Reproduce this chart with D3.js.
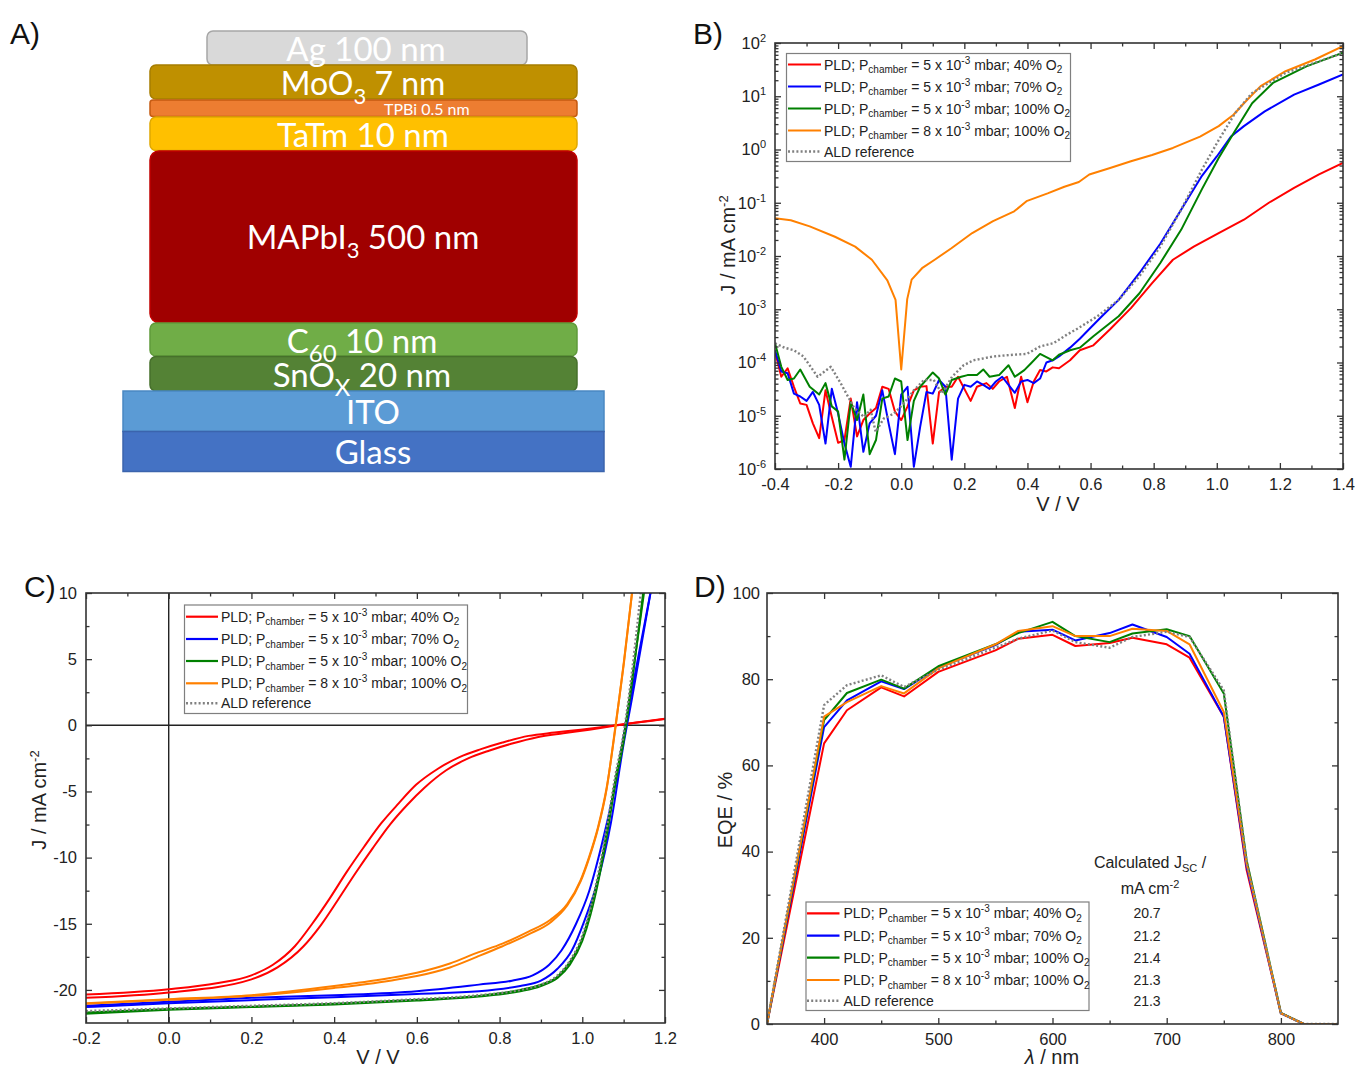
<!DOCTYPE html>
<html><head><meta charset="utf-8">
<script src="https://cdn.jsdelivr.net/npm/d3@7"></script>
<style>body{margin:0;background:#fff} svg{display:block}</style>
</head><body>
<svg id="fig" width="1355" height="1069"></svg>
<script>
// ================= DATA =================
// Legend / series descriptors
const legendPressure = ["5", "5", "5", "8"];
const legendOxygen = ["40%", "70%", "100%", "100%"];
const aldLabel = "ALD reference";
const jscValues = ["20.7", "21.2", "21.4", "21.3", "21.3"];

// Panel A layer stack (top to bottom)
const stackLayers = ["Ag 100 nm", "MoO3 7 nm", "TPBi 0.5 nm", "TaTm 10 nm", "MAPbI3 500 nm", "C60 10 nm", "SnOX 20 nm", "ITO", "Glass"];

// Panel B: dark J-V, [V, |J| mA cm-2]
const dark40 = [[-0.4,1.6e-4],[-0.38,5.4e-5],[-0.36,7.8e-5],[-0.34,3.5e-5],[-0.32,1.7e-5],[-0.30,1.6e-5],[-0.28,7.2e-6],[-0.26,3.8e-6],[-0.24,3.0e-5],[-0.22,9.5e-6],[-0.20,3.1e-6],[-0.18,3.5e-6],[-0.16,2.1e-5],[-0.14,4.1e-6],[-0.12,8.3e-6],[-0.10,1.1e-5],[-0.08,1.4e-5],[-0.06,3.5e-5],[-0.04,3.2e-5],[-0.02,1.2e-5],[0.0,8.3e-6],[0.02,1.5e-5],[0.04,3.0e-5],[0.06,3.5e-5],[0.08,3.6e-5],[0.10,3.0e-6],[0.12,2.8e-5],[0.14,3.5e-5],[0.16,3.5e-5],[0.18,5.4e-5],[0.22,1.9e-5],[0.24,3.5e-5],[0.27,4.1e-5],[0.29,3.2e-5],[0.31,4.4e-5],[0.335,5.4e-5],[0.36,1.4e-5],[0.38,5.4e-5],[0.40,1.8e-5],[0.42,4.4e-5],[0.44,7.2e-5],[0.46,6.8e-5],[0.48,8.1e-5],[0.50,7.8e-5],[0.535,1.1e-4],[0.566,1.7e-4],[0.609,2.1e-4],[0.662,4.2e-4],[0.728,1.05e-3],[0.795,3.1e-3],[0.861,8.5e-3],[0.927,1.5e-2],[1.006,2.7e-2],[1.086,4.8e-2],[1.165,0.10],[1.245,0.19],[1.324,0.34],[1.4,0.56]];
const dark70 = [[-0.4,1.7e-4],[-0.38,6.8e-5],[-0.36,6.3e-5],[-0.34,2.6e-5],[-0.32,2.3e-5],[-0.30,1.9e-5],[-0.28,2.8e-5],[-0.26,1.6e-5],[-0.24,3.0e-6],[-0.22,3.2e-5],[-0.20,1.1e-5],[-0.18,3.0e-6],[-0.16,1.1e-6],[-0.14,1.8e-5],[-0.12,2.1e-6],[-0.10,7.2e-6],[-0.08,1.0e-5],[-0.06,3.0e-5],[-0.04,7.2e-6],[-0.02,1.9e-6],[0.0,2.5e-5],[0.02,3.5e-5],[0.04,1.1e-6],[0.06,6.2e-6],[0.08,2.8e-5],[0.10,2.6e-5],[0.12,4.7e-5],[0.14,3.5e-5],[0.16,1.5e-6],[0.18,2.1e-5],[0.20,3.8e-5],[0.22,3.5e-5],[0.24,4.4e-5],[0.26,3.8e-5],[0.28,3.2e-5],[0.30,4.4e-5],[0.32,5.4e-5],[0.34,3.8e-5],[0.36,2.7e-5],[0.38,4.4e-5],[0.40,4.7e-5],[0.42,4.1e-5],[0.44,5.0e-5],[0.46,1.0e-4],[0.48,1.1e-4],[0.50,1.3e-4],[0.535,1.9e-4],[0.566,2.8e-4],[0.60,4.5e-4],[0.636,7.4e-4],[0.689,1.5e-3],[0.755,4.8e-3],[0.821,1.7e-2],[0.887,7.4e-2],[0.953,0.32],[1.0,0.74],[1.046,1.78],[1.086,2.75],[1.152,5.2],[1.245,10.7],[1.324,16.6],[1.4,25.7]];
const dark100 = [[-0.4,2.3e-4],[-0.38,8.3e-5],[-0.36,4.7e-5],[-0.34,5.0e-5],[-0.32,7.4e-5],[-0.29,3.5e-5],[-0.26,2.5e-5],[-0.24,4.1e-5],[-0.22,1.5e-5],[-0.20,1.2e-5],[-0.18,1.5e-6],[-0.16,1.8e-5],[-0.14,8.3e-6],[-0.12,2.5e-5],[-0.10,1.9e-6],[-0.08,3.5e-6],[-0.06,2.1e-5],[-0.04,2.3e-5],[-0.02,5.0e-5],[0.0,4.4e-5],[0.02,3.5e-6],[0.04,1.9e-5],[0.06,3.5e-5],[0.10,6.5e-5],[0.12,5.0e-5],[0.14,2.5e-5],[0.16,4.7e-5],[0.19,5.4e-5],[0.21,5.8e-5],[0.24,5.8e-5],[0.26,7.4e-5],[0.28,5.4e-5],[0.31,5.8e-5],[0.34,8.9e-5],[0.36,5.4e-5],[0.39,7.2e-5],[0.41,9.5e-5],[0.44,1.45e-4],[0.48,1.1e-4],[0.50,1.4e-4],[0.535,1.7e-4],[0.566,1.9e-4],[0.609,3.1e-4],[0.689,7.4e-4],[0.755,2.0e-3],[0.821,7.4e-3],[0.887,3.1e-2],[0.953,0.18],[1.006,0.69],[1.059,2.3],[1.112,7.4],[1.178,17.8],[1.284,36.3],[1.4,66]];
const dark8e3 = [[-0.4,0.051],[-0.35,0.047],[-0.29,0.036],[-0.21,0.023],[-0.146,0.015],[-0.093,8.5e-3],[-0.044,3.5e-3],[-0.018,1.5e-3],[0.0,7.4e-5],[0.019,1.55e-3],[0.033,3.6e-3],[0.066,5.9e-3],[0.106,8.5e-3],[0.159,0.014],[0.225,0.027],[0.291,0.045],[0.358,0.069],[0.397,0.107],[0.464,0.15],[0.517,0.20],[0.563,0.245],[0.596,0.34],[0.662,0.45],[0.728,0.60],[0.795,0.79],[0.861,1.07],[0.947,1.74],[1.006,2.75],[1.053,4.5],[1.086,7.4],[1.139,15.5],[1.218,29.5],[1.311,49],[1.4,87]];
const darkALD = [[-0.4,2.3e-4],[-0.37,1.9e-4],[-0.34,1.7e-4],[-0.31,1.3e-4],[-0.265,5.4e-5],[-0.223,8.3e-5],[-0.192,4.1e-5],[-0.149,1.4e-5],[-0.118,9.5e-6],[-0.097,1.3e-5],[-0.081,5.0e-6],[-0.055,8.9e-6],[-0.023,1.1e-5],[0.008,1.7e-5],[0.04,3.0e-5],[0.072,4.7e-5],[0.103,4.7e-5],[0.129,2.6e-5],[0.161,5.4e-5],[0.198,8.9e-5],[0.229,1.1e-4],[0.293,1.3e-4],[0.356,1.4e-4],[0.398,1.45e-4],[0.44,2.0e-4],[0.482,2.3e-4],[0.524,3.3e-4],[0.561,4.4e-4],[0.622,7.4e-4],[0.689,1.5e-3],[0.755,4.2e-3],[0.821,1.5e-2],[0.887,7.4e-2],[0.953,0.42],[1.006,1.5],[1.059,4.9],[1.112,11.5],[1.218,27.5],[1.4,65]];

// Panel C: illuminated J-V (two scan directions each), [V, J mA cm-2]
const light40a = [[-0.2,-20.35],[0,-19.95],[0.116,-19.5],[0.2,-18.9],[0.252,-18.1],[0.305,-16.7],[0.347,-15.0],[0.389,-13.1],[0.43,-11.1],[0.472,-9.2],[0.514,-7.4],[0.556,-5.9],[0.598,-4.5],[0.65,-3.3],[0.703,-2.4],[0.755,-1.8],[0.807,-1.3],[0.87,-0.8],[0.933,-0.55],[0.996,-0.33],[1.08,0.0],[1.2,0.5]];
const light40b = [[-0.2,-20.6],[0,-20.2],[0.2,-19.2],[0.263,-18.3],[0.326,-16.7],[0.368,-15.1],[0.409,-13.2],[0.451,-11.2],[0.493,-9.3],[0.535,-7.5],[0.577,-6.0],[0.619,-4.7],[0.671,-3.4],[0.724,-2.5],[0.776,-1.9],[0.828,-1.4],[0.891,-0.9],[0.954,-0.6],[1.017,-0.33],[1.085,0.0],[1.2,0.48]];
const light70a = [[-0.2,-21.2],[0,-20.9],[0.2,-20.6],[0.4,-20.4],[0.6,-20.1],[0.75,-19.6],[0.83,-19.3],[0.88,-18.9],[0.92,-18.1],[0.95,-17.0],[0.985,-15.0],[1.017,-12.5],[1.048,-8.9],[1.08,-4.4],[1.103,-0.3],[1.13,4.3],[1.166,10.2]];
const light70b = [[-0.2,-21.3],[0,-21.0],[0.4,-20.55],[0.6,-20.3],[0.75,-20.1],[0.85,-19.7],[0.9,-19.3],[0.94,-18.4],[0.975,-17.0],[1.006,-14.7],[1.038,-11.7],[1.069,-7.4],[1.10,-1.4],[1.12,2.0],[1.166,10.2]];
const light100a = [[-0.2,-21.8],[0,-21.5],[0.2,-21.3],[0.4,-21.1],[0.6,-20.8],[0.75,-20.5],[0.85,-20.1],[0.9,-19.7],[0.94,-19.1],[0.97,-18.1],[1.0,-16.3],[1.02,-14.3],[1.04,-11.6],[1.06,-8.2],[1.08,-4.4],[1.10,-1.2],[1.12,3.2],[1.148,10.2]];
const light100b = [[-0.2,-21.7],[0,-21.45],[0.4,-21.05],[0.6,-20.75],[0.75,-20.45],[0.85,-20.0],[0.9,-19.6],[0.94,-19.0],[0.97,-17.9],[1.0,-16.1],[1.02,-14.0],[1.04,-11.3],[1.06,-7.9],[1.08,-4.1],[1.10,-0.9],[1.12,3.4],[1.15,10.2]];
const light8e3a = [[-0.2,-21.0],[0,-20.7],[0.2,-20.4],[0.4,-19.7],[0.535,-19.1],[0.6,-18.7],[0.68,-18.0],[0.745,-17.2],[0.807,-16.5],[0.87,-15.6],[0.923,-14.7],[0.964,-13.5],[0.996,-11.7],[1.017,-9.9],[1.038,-7.7],[1.059,-4.7],[1.081,0.0],[1.101,4.9],[1.121,10.2]];
const light8e3b = [[-0.2,-21.05],[0,-20.75],[0.2,-20.45],[0.4,-19.85],[0.535,-19.3],[0.6,-18.95],[0.68,-18.3],[0.745,-17.5],[0.807,-16.7],[0.87,-15.8],[0.923,-14.9],[0.964,-13.6],[0.996,-11.8],[1.017,-10.0],[1.038,-7.8],[1.059,-4.8],[1.08,-0.1],[1.101,4.8],[1.121,10.2]];
const lightALD = [[-0.2,-21.6],[0,-21.4],[0.2,-21.2],[0.4,-21.0],[0.6,-20.7],[0.75,-20.4],[0.85,-20.0],[0.9,-19.6],[0.94,-18.9],[0.97,-17.8],[1.0,-15.9],[1.02,-13.8],[1.04,-11.0],[1.06,-7.6],[1.08,-3.8],[1.10,-0.6],[1.12,4.0],[1.142,10.2]];

// Panel D: EQE (%)
const eqeWavelength = [350,400,420,450,470,500,550,570,600,620,650,670,700,720,750,770,800,820,850];
const eqe40  = [0,65.1,72.8,78.1,76.0,81.7,86.7,89.4,90.3,87.7,88.4,89.6,88.1,85.0,71.3,35.7,2.5,0,0];
const eqe70  = [0,68.9,75.1,79.5,77.7,82.7,87.9,91.0,91.5,89.0,90.7,92.7,89.8,85.9,71.3,36.5,2.5,0,0];
const eqe100 = [0,70.5,76.8,79.9,77.8,83.0,88.1,90.7,93.3,90.0,88.6,90.6,91.6,90.0,76.7,38.0,2.6,0,0];
const eqe8e3 = [0,71.3,74.7,78.4,76.7,82.5,88.1,91.2,92.3,90.0,90.0,91.7,91.2,88.1,72.4,37.2,2.5,0,0];
const eqeALD = [0,74.0,78.6,80.9,78.2,82.2,87.3,89.4,91.3,88.6,87.3,89.8,91.0,89.8,77.4,37.6,2.5,0,0];

// Tick values
const bXTicks = [-0.4,-0.2,0,0.2,0.4,0.6,0.8,1.0,1.2,1.4];
const bYTicks = [1e-6,1e-5,1e-4,1e-3,1e-2,1e-1,1,10,100];
const cXTicks = [-0.2,0,0.2,0.4,0.6,0.8,1.0,1.2];
const cYTicks = [-20,-15,-10,-5,0,5,10];
const dXTicks = [400,500,600,700,800];
const dYTicks = [0,20,40,60,80,100];

// ================= STYLE =================
const colors = ["#ff0000", "#0000ff", "#008000", "#ff8000", "#808080"];
const FONT = "'Liberation Sans', Arial, sans-serif";
const svg = d3.select("#fig");
svg.append("rect").attr("width",1355).attr("height",1069).attr("fill","#fff");

function styleAxis(g){
  g.select(".domain").remove();
  g.selectAll(".tick line").attr("stroke","#333").attr("stroke-width",1.3);
  g.selectAll(".tick text").attr("font-family",FONT).attr("font-size",16.5).attr("fill","#222");
}

function frame(x, y, o){
  const [xl, xr] = x.range();
  const [yb, yt] = y.range();
  const g = svg.append("g");
  g.append("g").attr("transform",`translate(0,${yb})`)
    .call(d3.axisBottom(x).tickValues(o.xMajor).tickSize(-6).tickPadding(9).tickFormat(o.xFmt)).call(styleAxis);
  g.append("g").attr("transform",`translate(0,${yb})`)
    .call(d3.axisBottom(x).tickValues(o.xMinor).tickSize(-3.5).tickFormat("")).call(styleAxis);
  g.append("g").attr("transform",`translate(0,${yt})`)
    .call(d3.axisTop(x).tickValues(o.xMajor).tickSize(-6).tickFormat("")).call(styleAxis);
  g.append("g").attr("transform",`translate(0,${yt})`)
    .call(d3.axisTop(x).tickValues(o.xMinor).tickSize(-3.5).tickFormat("")).call(styleAxis);
  const la = g.append("g").attr("transform",`translate(${xl},0)`)
    .call(d3.axisLeft(y).tickValues(o.yMajor).tickSize(-6).tickPadding(o.yPad||9).tickFormat(o.yFmt)).call(styleAxis);
  g.append("g").attr("transform",`translate(${xl},0)`)
    .call(d3.axisLeft(y).tickValues(o.yMinor).tickSize(-3.5).tickFormat("")).call(styleAxis);
  g.append("g").attr("transform",`translate(${xr},0)`)
    .call(d3.axisRight(y).tickValues(o.yMajor).tickSize(-6).tickFormat("")).call(styleAxis);
  g.append("g").attr("transform",`translate(${xr},0)`)
    .call(d3.axisRight(y).tickValues(o.yMinor).tickSize(-3.5).tickFormat("")).call(styleAxis);
  g.append("rect").attr("x",xl).attr("y",yt).attr("width",xr-xl).attr("height",yb-yt)
    .attr("fill","none").attr("stroke","#333").attr("stroke-width",1.6);
  return la;
}

function clipFor(id, x, y){
  const [xl, xr] = x.range(); const [yb, yt] = y.range();
  svg.append("clipPath").attr("id",id).append("rect").attr("x",xl).attr("y",yt).attr("width",xr-xl).attr("height",yb-yt);
}

function pldLabel(t, p, o2){
  t.append("tspan").text("PLD; P");
  t.append("tspan").attr("dy",3.5).attr("font-size",10).text("chamber");
  t.append("tspan").attr("dy",-3.5).text(` = ${p} x 10`);
  t.append("tspan").attr("dy",-6).attr("font-size",10).text("-3");
  t.append("tspan").attr("dy",6).text(` mbar; ${o2} O`);
  t.append("tspan").attr("dy",3.5).attr("font-size",10).text("2");
}

function legend(box, rows, lineX, textX){
  svg.append("rect").attr("x",box[0]).attr("y",box[1]).attr("width",box[2]).attr("height",box[3])
    .attr("fill","#fff").attr("stroke","#7f7f7f").attr("stroke-width",1.2);
  rows.forEach((ry,i)=>{
    svg.append("line").attr("x1",lineX[0]).attr("x2",lineX[1]).attr("y1",ry).attr("y2",ry)
      .attr("stroke",colors[i]).attr("stroke-width", i===4?2.4:2.2)
      .attr("stroke-dasharray", i===4?"2,2.2":null);
    const t = svg.append("text").attr("x",textX).attr("y",ry+5).attr("font-family",FONT)
      .attr("font-size",14).attr("fill","#222");
    if(i<4) pldLabel(t, legendPressure[i], legendOxygen[i]); else t.text(aldLabel);
  });
}

function drawLine(data, x, y, i, clip, curve){
  svg.append("path").datum(data)
    .attr("d", d3.line().curve(curve||d3.curveLinear).x(d=>x(d[0])).y(d=>y(d[1])))
    .attr("fill","none").attr("stroke",colors[i]).attr("stroke-width", i===4?2.4:2)
    .attr("stroke-dasharray", i===4?"2,2.2":null)
    .attr("stroke-linejoin","round")
    .attr("clip-path", clip?`url(#${clip})`:null);
}

function title(x, y, rot){
  return svg.append("text").attr("font-family",FONT).attr("font-size",20).attr("fill","#222")
    .attr("text-anchor","middle")
    .attr("transform", rot?`translate(${x},${y}) rotate(-90)`:`translate(${x},${y})`);
}
function panelLabel(txt, x, y){
  svg.append("text").attr("x",x).attr("y",y).attr("font-family",FONT).attr("font-size",30).attr("fill","#111").text(txt);
}

// ================= PANEL A =================
(function(){
  const geo = [
    {x0:207,x1:527,y0:31,y1:65,fill:"#d9d9d9",stroke:"#a6a6a6",rx:6},
    {x0:150,x1:577,y0:65,y1:99,fill:"#bf9000",stroke:"#a67d00",rx:6},
    {x0:150,x1:577,y0:100,y1:116.5,fill:"#ed7d31",stroke:"#c55a11",rx:3},
    {x0:150,x1:577,y0:117,y1:150.5,fill:"#ffc000",stroke:"#dfa800",rx:6},
    {x0:150,x1:577,y0:151,y1:322.5,fill:"#a00000",stroke:"#c00000",rx:9},
    {x0:150,x1:577,y0:323,y1:356,fill:"#70ad47",stroke:"#5f9a3b",rx:6},
    {x0:150,x1:577,y0:356.5,y1:391,fill:"#548235",stroke:"#46702b",rx:6},
    {x0:123,x1:604,y0:391,y1:431.5,fill:"#5b9bd5",stroke:"#4a88c2",rx:0},
    {x0:123,x1:604,y0:431.5,y1:471.5,fill:"#4472c4",stroke:"#3b64ad",rx:0}
  ];
  const gA = svg.append("g");
  stackLayers.forEach((name,i)=>{
    const c = geo[i];
    gA.append("rect").attr("x",c.x0).attr("y",c.y0).attr("width",c.x1-c.x0).attr("height",c.y1-c.y0)
      .attr("rx",c.rx).attr("fill",c.fill).attr("stroke",c.stroke).attr("stroke-width",1.5);
  });
  const AF = "Lato, 'Open Sans', sans-serif";
  function lbl(x,y,size,parts,anchor){
    const t = gA.append("text").attr("x",x).attr("y",y).attr("font-family",AF).attr("font-size",size)
      .attr("fill","#fff").attr("text-anchor",anchor||"middle");
    parts.forEach(p=>{
      const s = t.append("tspan").text(p[0]);
      if(p[1]) s.attr("dy",p[1]);
      if(p[2]) s.attr("font-size",p[2]);
    });
  }
  lbl(366,61,33,[[stackLayers[0]]]);
  lbl(363,95,32,[["MoO"],["3",9,22],[" 7 nm",-9]]);
  lbl(384,114.5,16,[[stackLayers[2]]],"start");
  lbl(363,146.5,33,[[stackLayers[3]]]);
  lbl(363,249,33,[["MAPbI"],["3",9,22],[" 500 nm",-9]]);
  lbl(362,352.5,33,[["C"],["60",9,24],[" 10 nm",-9]]);
  lbl(362,387,33,[["SnO"],["X",9,24],[" 20 nm",-9]]);
  lbl(373,423.5,33,[[stackLayers[7]]]);
  lbl(373,463.5,33,[[stackLayers[8]]]);
})();
panelLabel("A)", 10, 44);

// ================= PANEL B =================
const xB = d3.scaleLinear().domain([-0.4,1.4]).range([775,1343]);
const yB = d3.scaleLog().domain([1e-6,1e2]).range([469,43]);
const bXMinor = d3.range(-0.3,1.4,0.2);
const bYMinor = [];
for(let e=-6;e<2;e++) for(let m=2;m<10;m++) bYMinor.push(m*Math.pow(10,e));
clipFor("clipB", xB, yB);
[dark40, dark70, dark100, dark8e3, darkALD].forEach((d,i)=>drawLine(d, xB, yB, i, "clipB"));
const laB = frame(xB, yB, {xMajor:bXTicks, xMinor:bXMinor, xFmt:v=>v.toFixed(1), yMajor:bYTicks, yMinor:bYMinor, yFmt:()=>"10", yPad:9});
laB.selectAll(".tick text").each(function(d){
  const t = d3.select(this); t.text("");
  t.append("tspan").text("10");
  t.append("tspan").attr("dy",-7).attr("font-size",11).text(String(Math.round(Math.log10(d))));
});
legend([786.5,53.5,284,108], [64.5,86.5,108.5,130.5,151.5], [788,821], 824);
title(1058,511).text("V / V");
(function(){ const t = title(735,245,true); t.append("tspan").text("J / mA cm"); t.append("tspan").attr("dy",-7).attr("font-size",13).text("-2"); })();
panelLabel("B)", 693, 44);

// ================= PANEL C =================
const xC = d3.scaleLinear().domain([-0.2,1.2]).range([86,665]);
const yC = d3.scaleLinear().domain([-22.5,10]).range([1023,593]);
const cXMinor = d3.range(-0.1,1.2,0.2);
const cYMinor = [-17.5,-12.5,-7.5,-2.5,2.5,7.5];
clipFor("clipC", xC, yC);
svg.append("line").attr("x1",xC(0)).attr("x2",xC(0)).attr("y1",593).attr("y2",1023).attr("stroke","#222").attr("stroke-width",1.4);
svg.append("line").attr("x1",86).attr("x2",665).attr("y1",yC(0)).attr("y2",yC(0)).attr("stroke","#222").attr("stroke-width",1.4);
[[light40a,0],[light40b,0],[light70a,1],[light70b,1],[light100a,2],[light100b,2],[light8e3a,3],[light8e3b,3],[lightALD,4]]
  .forEach(([d,i])=>drawLine(d, xC, yC, i, "clipC", d3.curveMonotoneX));
frame(xC, yC, {xMajor:cXTicks, xMinor:cXMinor, xFmt:v=>v.toFixed(1), yMajor:cYTicks, yMinor:cYMinor, yFmt:v=>String(v), yPad:9});
legend([184.5,605,283,108.5], [616.7,639,661,683.3,703.3], [186,218], 221);
title(378,1064).text("V / V");
(function(){ const t = title(46,800,true); t.append("tspan").text("J / mA cm"); t.append("tspan").attr("dy",-7).attr("font-size",13).text("-2"); })();
panelLabel("C)", 24, 597);

// ================= PANEL D =================
const xD = d3.scaleLinear().domain([350,850]).range([767,1338]);
const yD = d3.scaleLinear().domain([0,100]).range([1024,593]);
const dXMinor = [450,550,650,750];
const dYMinor = [10,30,50,70,90];
clipFor("clipD", xD, yD);
[eqe40, eqe70, eqe100, eqe8e3, eqeALD].forEach((vals,i)=>{
  drawLine(eqeWavelength.map((w,k)=>[w, vals[k]]), xD, yD, i, "clipD");
});
frame(xD, yD, {xMajor:dXTicks, xMinor:dXMinor, xFmt:v=>String(v), yMajor:dYTicks, yMinor:dYMinor, yFmt:v=>String(v), yPad:7});
legend([806,902,283,108.5], [913.3,935.7,957.7,980,1000.7], [807,839.5], 843.5);
const jscRows = [913.3,935.7,957.7,980,1000.7];
jscValues.forEach((v,i)=>{
  svg.append("text").attr("x",1147).attr("y",jscRows[i]+5).attr("text-anchor","middle")
    .attr("font-family",FONT).attr("font-size",14).attr("fill","#222").text(v);
});
(function(){
  const t = svg.append("text").attr("x",1150).attr("y",868).attr("text-anchor","middle").attr("font-family",FONT).attr("font-size",16).attr("fill","#222");
  t.append("tspan").text("Calculated J");
  t.append("tspan").attr("dy",4).attr("font-size",11).text("SC");
  t.append("tspan").attr("dy",-4).text(" /");
  const u = svg.append("text").attr("x",1150).attr("y",894).attr("text-anchor","middle").attr("font-family",FONT).attr("font-size",16).attr("fill","#222");
  u.append("tspan").text("mA cm");
  u.append("tspan").attr("dy",-6).attr("font-size",11).text("-2");
})();
(function(){ const t = title(1052,1064); t.append("tspan").attr("font-style","italic").text("λ"); t.append("tspan").text(" / nm"); })();
title(732,810,true).text("EQE / %");
panelLabel("D)", 694, 597);
</script>
</body></html>
